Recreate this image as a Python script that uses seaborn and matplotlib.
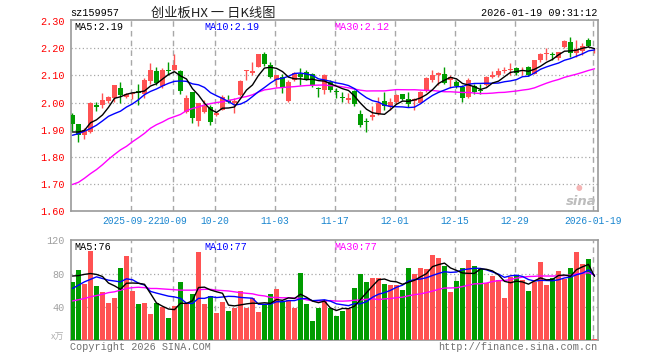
import numpy as np
import pandas as pd
import matplotlib
matplotlib.use("Agg")
import matplotlib.pyplot as plt
import seaborn as sns

# ---------------- data ----------------
dates = [
    "2025-09-08", "2025-09-09", "2025-09-10", "2025-09-11", "2025-09-12",
    "2025-09-15", "2025-09-16", "2025-09-17", "2025-09-18", "2025-09-19",
    "2025-09-22", "2025-09-23", "2025-09-24", "2025-09-25", "2025-09-26",
    "2025-09-29", "2025-09-30", "2025-10-09", "2025-10-10", "2025-10-13",
    "2025-10-14", "2025-10-15", "2025-10-16", "2025-10-17", "2025-10-20",
    "2025-10-21", "2025-10-22", "2025-10-23", "2025-10-24", "2025-10-27",
    "2025-10-28", "2025-10-29", "2025-10-30", "2025-10-31", "2025-11-03",
    "2025-11-04", "2025-11-05", "2025-11-06", "2025-11-07", "2025-11-10",
    "2025-11-11", "2025-11-12", "2025-11-13", "2025-11-14", "2025-11-17",
    "2025-11-18", "2025-11-19", "2025-11-20", "2025-11-21", "2025-11-24",
    "2025-11-25", "2025-11-26", "2025-11-27", "2025-11-28", "2025-12-01",
    "2025-12-02", "2025-12-03", "2025-12-04", "2025-12-05", "2025-12-08",
    "2025-12-09", "2025-12-10", "2025-12-11", "2025-12-12", "2025-12-15",
    "2025-12-16", "2025-12-17", "2025-12-18", "2025-12-19", "2025-12-22",
    "2025-12-23", "2025-12-24", "2025-12-25", "2025-12-26", "2025-12-29",
    "2025-12-30", "2025-12-31", "2026-01-05", "2026-01-06", "2026-01-07",
    "2026-01-08", "2026-01-09", "2026-01-12", "2026-01-13", "2026-01-14",
    "2026-01-15", "2026-01-16", "2026-01-19",
]

opens = [1.953, 1.920, 1.880, 1.892, 1.990, 1.991, 2.004, 2.016, 2.052, 2.021,
         2.030, 2.043, 2.032, 2.078, 2.116, 2.061, 2.122, 2.122, 2.117, 1.966,
         2.038, 1.932, 1.966, 1.984, 1.953, 1.974, 2.011, 1.999, 2.027, 2.118,
         2.110, 2.132, 2.179, 2.138, 2.085, 2.095, 2.005, 2.083, 2.107, 2.114,
         2.105, 2.053, 2.046, 2.077, 2.041, 2.019, 2.009, 2.042, 1.959, 1.929,
         1.945, 1.957, 2.005, 1.984, 2.003, 2.031, 2.012, 2.006, 2.000, 2.043,
         2.085, 2.101, 2.107, 2.085, 2.077, 2.056, 2.021, 2.061, 2.048, 2.064,
         2.095, 2.101, 2.116, 2.120, 2.126, 2.117, 2.130, 2.107, 2.157, 2.181,
         2.176, 2.163, 2.204, 2.222, 2.182, 2.191, 2.233, 2.193]
highs = [1.962, 1.920, 1.905, 2.002, 2.003, 2.036, 2.024, 2.066, 2.077, 2.036,
         2.040, 2.070, 2.089, 2.145, 2.132, 2.128, 2.150, 2.179, 2.120, 2.027,
         2.038, 1.999, 2.009, 1.990, 1.966, 2.027, 2.027, 2.015, 2.082, 2.122,
         2.151, 2.179, 2.188, 2.151, 2.100, 2.105, 2.083, 2.114, 2.126, 2.120,
         2.108, 2.058, 2.107, 2.083, 2.052, 2.040, 2.036, 2.048, 1.972, 1.941,
         1.987, 2.021, 2.040, 2.015, 2.033, 2.033, 2.040, 2.018, 2.042, 2.095,
         2.122, 2.114, 2.130, 2.101, 2.083, 2.064, 2.089, 2.067, 2.070, 2.098,
         2.117, 2.126, 2.132, 2.145, 2.130, 2.132, 2.135, 2.159, 2.182, 2.200,
         2.188, 2.185, 2.231, 2.243, 2.233, 2.219, 2.238, 2.200]
lows = [1.895, 1.855, 1.865, 1.888, 1.968, 1.978, 1.998, 2.003, 1.998, 2.015,
        2.012, 1.990, 2.015, 2.070, 2.064, 2.055, 2.100, 2.120, 2.031, 1.960,
        1.925, 1.914, 1.960, 1.916, 1.950, 1.972, 1.999, 1.962, 2.025, 2.083,
        2.101, 2.130, 2.136, 2.089, 2.058, 2.036, 2.003, 2.080, 2.064, 2.083,
        2.056, 2.021, 2.033, 2.040, 2.015, 2.003, 1.999, 1.987, 1.910, 1.892,
        1.935, 1.953, 1.972, 1.972, 1.996, 2.009, 1.984, 1.972, 1.998, 2.040,
        2.077, 2.064, 2.070, 2.052, 2.052, 2.003, 2.015, 2.033, 2.033, 2.060,
        2.089, 2.095, 2.108, 2.101, 2.101, 2.101, 2.098, 2.105, 2.151, 2.159,
        2.157, 2.157, 2.200, 2.169, 2.167, 2.175, 2.204, 2.184]
closes = [1.920, 1.880, 1.897, 2.000, 1.983, 2.010, 2.021, 2.064, 2.028, 2.030,
          2.036, 2.034, 2.085, 2.120, 2.073, 2.122, 2.117, 2.138, 2.043, 2.015,
          1.943, 1.999, 1.987, 1.928, 1.960, 2.021, 2.003, 2.006, 2.080, 2.120,
          2.116, 2.179, 2.142, 2.095, 2.100, 2.056, 2.077, 2.110, 2.095, 2.085,
          2.064, 2.051, 2.101, 2.046, 2.040, 2.018, 2.018, 1.996, 1.916, 1.928,
          1.953, 1.999, 1.986, 2.003, 2.027, 2.012, 1.994, 2.012, 2.040, 2.089,
          2.101, 2.110, 2.073, 2.093, 2.061, 2.015, 2.083, 2.040, 2.042, 2.095,
          2.101, 2.117, 2.122, 2.123, 2.110, 2.122, 2.101, 2.159, 2.179, 2.183,
          2.175, 2.185, 2.227, 2.184, 2.198, 2.210, 2.209, 2.195]
volumes = [70.3, 84.3, 67.5, 107.6, 65.0, 57.8, 45.0, 50.6, 86.7, 101.6,
           59.0, 43.4, 44.6, 31.3, 44.6, 39.4, 26.5, 41.0, 69.9, 43.4,
           55.4, 106.0, 43.4, 53.0, 32.5, 46.2, 34.9, 38.6, 59.0, 38.6,
           50.6, 33.7, 42.2, 55.4, 61.4, 46.2, 48.2, 38.6, 81.1, 43.4,
           22.9, 38.6, 48.2, 39.0, 29.0, 35.3, 37.0, 63.0, 79.5, 70.0,
           75.0, 75.0, 67.5, 66.3, 66.3, 60.2, 86.7, 80.0, 87.0, 85.5,
           102.4, 98.8, 89.0, 57.8, 71.0, 86.7, 96.4, 89.0, 85.0, 68.3,
           77.0, 72.3, 50.6, 76.3, 78.0, 72.3, 59.0, 70.3, 94.0, 66.3,
           74.7, 83.0, 73.0, 86.7, 106.0, 91.6, 97.6, 1.2]

# moving-average values before enough in-window history exists
ma5_head = [1.891, 1.891, 1.897, 1.925]
ma10_head = [1.879, 1.885, 1.894, 1.904, 1.916, 1.932, 1.949, 1.959, 1.968]
ma30_head = [1.697, 1.705, 1.720, 1.737, 1.752, 1.770, 1.790, 1.808, 1.825, 1.838,
             1.855, 1.870, 1.886, 1.905, 1.918, 1.928, 1.940, 1.948, 1.956, 1.970,
             1.978, 1.984, 1.991, 1.996, 2.000, 2.003, 2.008, 2.012, 2.018]
vma5_head = [77.0, 77.5, 79.0, 80.0]
vma10_head = [62.0, 66.0, 70.0, 73.0, 76.0, 74.0, 72.0, 71.0, 70.0]
vma30_head = [47.0, 48.5, 50.0, 52.0, 53.5, 55.0, 57.0, 58.0, 60.0, 62.0,
              63.0, 63.5, 63.0, 62.0, 62.0, 61.5, 61.0, 60.5, 60.0, 60.0,
              60.0, 60.5, 61.0, 61.0, 60.0, 59.5, 59.0, 58.0, 57.0]

tick_dates = ["2025-09-22", "2025-10-09", "2025-10-20", "2025-11-03", "2025-11-17",
              "2025-12-01", "2025-12-15", "2025-12-29", "2026-01-19"]
tick_labels = ["2025-09-22", "10-09", "10-20", "11-03", "11-17",
               "12-01", "12-15", "12-29", "2026-01-19"]
price_ticks = [1.60, 1.70, 1.80, 1.90, 2.00, 2.10, 2.20, 2.30]
vol_ticks = [40, 80, 120]

title_code = "sz159957"
title_main = "创业板HX 一 日K线图"
stamp = "2026-01-19 09:31:12"
legend_price = ["MA5:2.19", "MA10:2.19", "MA30:2.12"]
legend_vol = ["MA5:76", "MA10:77", "MA30:77"]


def moving_avg(vals, n, head):
    out = list(head)
    for i in range(len(head), len(vals)):
        out.append(float(np.mean(vals[i - n + 1:i + 1])))
    return out


df = pd.DataFrame({"date": dates, "open": opens, "high": highs, "low": lows,
                   "close": closes, "vol": volumes})
df["i"] = np.arange(len(df))
df["ma5"] = moving_avg(closes, 5, ma5_head)
df["ma10"] = moving_avg(closes, 10, ma10_head)
df["ma30"] = moving_avg(closes, 30, ma30_head)
df["vma5"] = moving_avg(volumes, 5, vma5_head)
df["vma10"] = moving_avg(volumes, 10, vma10_head)
df["vma30"] = moving_avg(volumes, 30, vma30_head)

# ---------------- style ----------------
sns.set_theme(style="white")
plt.rcParams["font.family"] = ["Liberation Mono", "Noto Sans CJK SC", "DejaVu Sans"]

RED = "#ff5252"
GREEN = "#009c00"
GRID = "#a8a8a8"
FRAME = "#9a9a9a"
BLUE_TXT = "#1a86d0"
MONO = ["Liberation Mono", "Noto Sans CJK SC", "DejaVu Sans"]

W, H = 660, 360
fig = plt.figure(figsize=(6.6, 3.6), dpi=100)
fig.patch.set_facecolor("white")


def box(x0, y0, x1, y1):
    return [x0 / W, 1 - y1 / H, (x1 - x0) / W, (y1 - y0) / H]


ax = fig.add_axes(box(70.5, 19.5, 597.5, 210.7))
axv = fig.add_axes(box(70.5, 240.3, 597.5, 340.0))

up = df["close"] >= df["open"]
colors = np.where(up, RED, GREEN)
bw = 5 / 6

# candles
ax.vlines(df["i"], df["low"], df["high"], colors=colors, linewidth=1.0, zorder=3)
body_low = np.minimum(df["open"], df["close"])
body_h = np.maximum(np.abs(df["close"] - df["open"]), 0.003)
ax.bar(df["i"], body_h, bottom=body_low, width=bw, color=colors,
       edgecolor="none", zorder=4)

# moving averages
sns.lineplot(data=df, x="i", y="ma30", ax=ax, color="#ff00ff", linewidth=1.0, zorder=5)
sns.lineplot(data=df, x="i", y="ma10", ax=ax, color="#0000ff", linewidth=1.0, zorder=6)
sns.lineplot(data=df, x="i", y="ma5", ax=ax, color="black", linewidth=1.0, zorder=7)

# volume
axv.bar(df["i"], df["vol"], width=bw, color=colors, edgecolor="none", zorder=3)
sns.lineplot(data=df, x="i", y="vma30", ax=axv, color="#ff00ff", linewidth=1.0, zorder=5)
sns.lineplot(data=df, x="i", y="vma10", ax=axv, color="#0000ff", linewidth=1.0, zorder=6)
sns.lineplot(data=df, x="i", y="vma5", ax=axv, color="black", linewidth=1.0, zorder=7)

tick_pos = [dates.index(d) - 0.3 for d in tick_dates]

for a in (ax, axv):
    a.set_xlim(-0.33, 87.5)
    a.set_xlabel("")
    a.set_ylabel("")
    for s in a.spines.values():
        s.set_color(FRAME)
        s.set_linewidth(1.2)
    for p in tick_pos:
        a.axvline(p, color=GRID, linestyle=(0, (4, 3)), linewidth=1.0, zorder=1)
    a.tick_params(axis="both", length=0)

ax.set_ylim(1.60, 2.307)
for p in price_ticks[1:-1]:
    ax.axhline(p, color=GRID, linestyle=(0, (1, 2)), linewidth=0.9, zorder=1)
ax.set_yticks(price_ticks)
ax.set_yticklabels([f"{p:.2f}" for p in price_ticks], color="#ff0000",
                   fontsize=7.3, family=MONO)
ax.tick_params(axis="y", pad=4)
ax.set_xticks(tick_pos)
ax.set_xticklabels(tick_labels, color=BLUE_TXT, fontsize=6.9, family=MONO)
ax.tick_params(axis="x", pad=4)

axv.set_ylim(0, 120)
for v in vol_ticks[:-1]:
    axv.axhline(v, color=GRID, linestyle=(0, (1, 2)), linewidth=0.9, zorder=1)
axv.set_yticks(vol_ticks)
axv.set_yticklabels([str(v) for v in vol_ticks], color="#a0a0a0",
                    fontsize=7.3, family=MONO)
axv.tick_params(axis="y", pad=4)
axv.set_xticks([])

# ---------------- texts ----------------
def ftext(x, y, s, **kw):
    fig.text(x / W, 1 - y / H, s, **kw)


ftext(70, 13, title_code, fontsize=7.3, color="black", va="center", ha="left", family=MONO)
ftext(213, 13, title_main, fontsize=9.5, color="#222222", va="center", ha="center",
      family=["Noto Sans CJK SC", "DejaVu Sans"])
ftext(597, 13, stamp, fontsize=7.3, color="black", va="center", ha="right", family=MONO)

lx = [74, 204, 334]
lc = ["black", "#0000ff", "#ff00ff"]
for x, s, c in zip(lx, legend_price, lc):
    ftext(x, 26.5, s, fontsize=7.3, color=c, va="center", ha="left", family=MONO)
for x, s, c in zip(lx, legend_vol, lc):
    ftext(x, 246.5, s, fontsize=7.3, color=c, va="center", ha="left", family=MONO)

ftext(64, 337, "x万", fontsize=6.5, color="#b0b0b0", va="center", ha="right",
      family=["Noto Sans CJK SC", "DejaVu Sans"])
ftext(70, 347.5, "Copyright 2026 SINA.COM", fontsize=7.3, color="#707070",
      va="center", ha="left", family=MONO)
ftext(597, 347.5, "http://finance.sina.com.cn", fontsize=7.3, color="#707070",
      va="center", ha="right", family=MONO)

# sina watermark
ftext(581, 201.5, "sina", fontsize=9.5, color="#bdbdbd", va="center", ha="center",
      style="italic", weight="bold", family=["DejaVu Sans"])
ftext(579, 187, "●", fontsize=5.5, color="#f4b4b4", va="center", ha="center",
      family=["DejaVu Sans"])

fig.savefig("out.png", dpi=100, facecolor="white")
